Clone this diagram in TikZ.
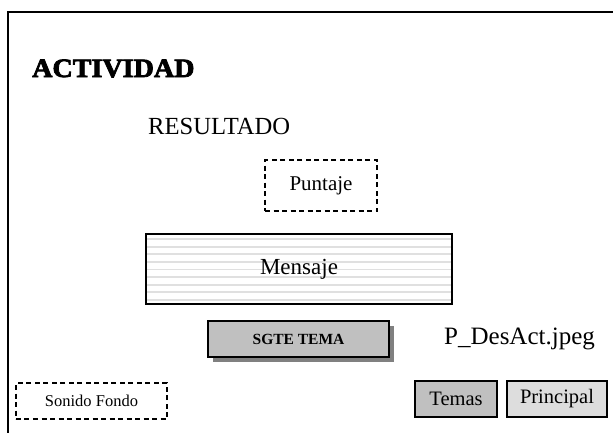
\documentclass[tikz,border=0pt]{standalone}
\usepackage{fontspec}
\setmainfont{Liberation Serif}
\newfontfamily\heavyfont[BoldFeatures={FakeBold=3},FakeStretch=1.06]{Liberation Serif}
\usetikzlibrary{shadows}
\definecolor{btngray}{HTML}{C0C0C0}
\definecolor{btnlight}{HTML}{DDDDDD}
\definecolor{stripe}{HTML}{E0E0E0}
\newcommand{\fs}[1]{\fontsize{#1bp}{#1bp}\selectfont}

\begin{document}
\begin{tikzpicture}[x=1bp,y=-1bp,
  dbox/.style={draw,dash pattern=on 5bp off 3.5bp,line width=1.5bp,inner sep=0pt},
  btn/.style={draw,line width=1.4bp,fill=btngray,inner sep=0pt,minimum height=36bp},
  lbl/.style={inner sep=0pt,anchor=base west}]
\useasboundingbox (0,0) rectangle (613,432);
\draw[line width=2bp] (8,440) -- (8,12) -- (620,12);
\node[lbl,font=\heavyfont\bfseries\fs{26.5}] (act) at (32,77) {ACTIVIDAD};
\node[lbl,font=\fs{24.6}] (res) at (148,134) {RESULTADO};
\node[dbox,minimum width=112bp,minimum height=51bp,font=\fs{21}] (pun) at (321,185.5) {Puntaje};
\node[draw,line width=1.4bp,fill=white,inner sep=0pt,minimum width=306bp,minimum height=70bp,
  font=\fs{23},
  path picture={\foreach \k in {0,...,8}
    \draw[stripe,line width=1.8bp]
      ([yshift=-5bp-7.6bp*\k]path picture bounding box.north west) --
      ([yshift=-5bp-7.6bp*\k]path picture bounding box.north east);}]
  (msg) at (299,269) {Mensaje};
\node[btn,minimum width=181bp,font=\bfseries\fs{15.5},
  drop shadow={shadow xshift=5bp,shadow yshift=-5bp,fill=gray,opacity=1}]
  (sig) at (298.5,339) {SGTE TEMA};
\node[lbl,font=\fs{25}] (img) at (444,344) {P\_DesAct.jpeg};
\node[btn,minimum width=82bp,font=\fs{20.5}] (tem) at (456,399) {Temas};
\node[btn,fill=btnlight,minimum width=100bp,font=\fs{20.5}] (pri) at (557,399) {Principal};
\node[dbox,minimum width=151bp,minimum height=36bp,font=\fs{16.5}] (son) at (91.5,401) {Sonido Fondo};
\end{tikzpicture}
\end{document}
